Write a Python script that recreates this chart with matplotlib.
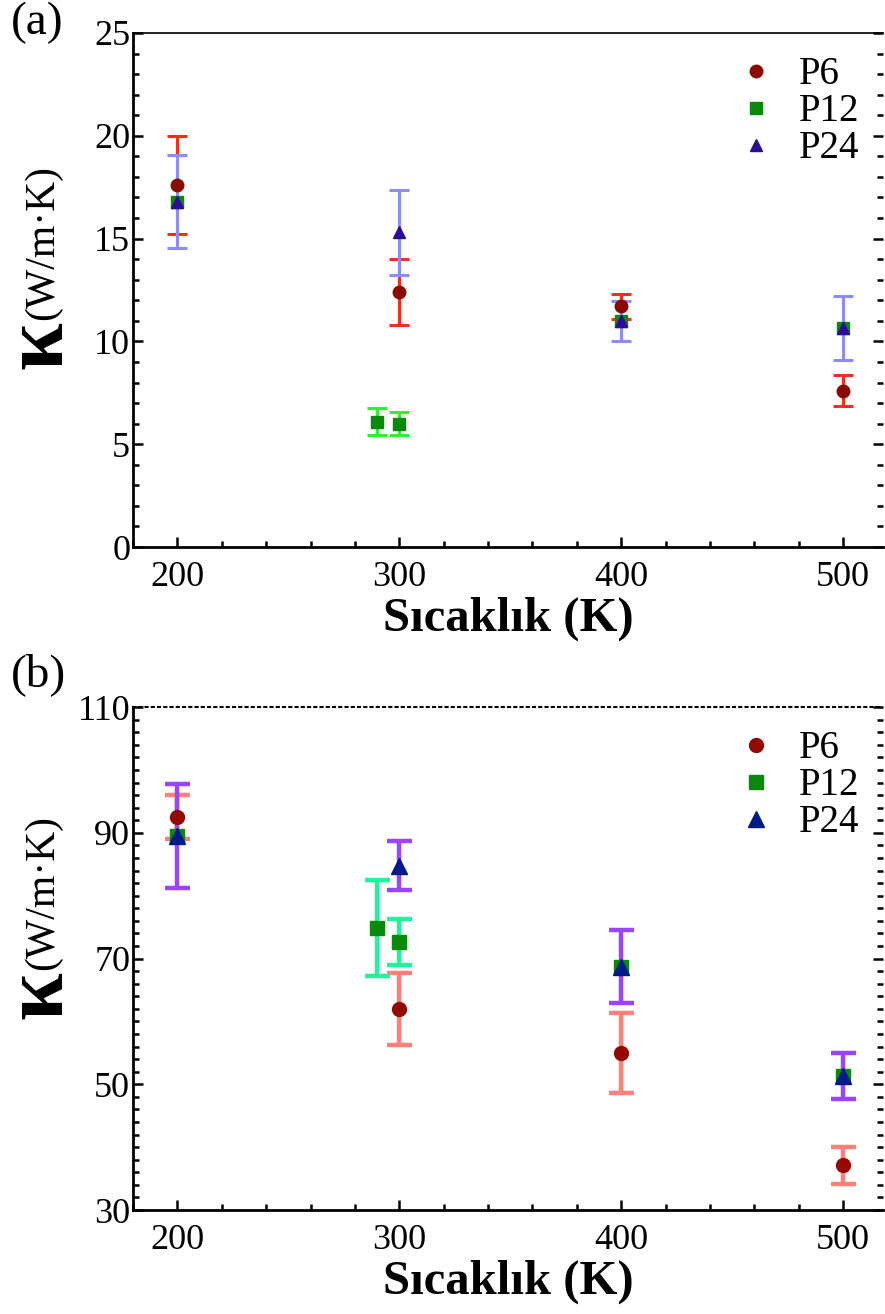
import numpy as np
import matplotlib
matplotlib.use("Agg")
import matplotlib.pyplot as plt
from matplotlib.ticker import MultipleLocator, FixedLocator

plt.rcParams['font.family'] = 'Liberation Serif'

# ---------------------------- data (a) ----------------------------
T_a = [200, 300, 400, 500]
p6_a = [17.6, 12.4, 11.7, 7.6]
p6_a_err = [2.4, 1.6, 0.62, 0.75]
T12_a = [200, 290, 300, 400, 500]
p12_a = [16.8, 6.1, 6.0, 11.0, 10.65]
p12_a_err = [np.nan, 0.64, 0.55, np.nan, np.nan]
p24_a = [16.8, 15.3, 11.0, 10.65]
p24_a_err = [2.25, 2.07, 0.97, 1.54]
yt_a = [0, 5, 10, 15, 20, 25]

# ---------------------------- data (b) ----------------------------
T_b = [200, 300, 400, 500]
p6_b = [92.5, 62.0, 55.0, 37.1]
p6_b_err = [3.5, 5.7, 6.4, 3.0]
T12_b = [200, 290, 300, 400, 500]
p12_b = [89.5, 74.9, 72.6, 68.7, 51.3]
p12_b_err = [np.nan, 7.6, 3.65, np.nan, np.nan]
p24_b = [89.5, 84.8, 68.7, 51.3]
p24_b_err = [8.3, 3.85, 5.8, 3.7]
yt_b = [30, 50, 70, 90, 110]

labels = ['P6', 'P12', 'P24']


def bars(ax, x, y, e, color, lw, cs):
    x, y, e = np.array(x), np.array(y), np.array(e)
    m = np.isfinite(e)
    ax.errorbar(x[m], y[m], yerr=e[m], fmt='none', ecolor=color,
                elinewidth=lw, capsize=cs, capthick=lw, zorder=2)


def style(ax, yt, ymin, top_dotted):
    ax.set_xlim(180, 518)
    ax.set_ylim(yt[0], yt[-1])
    ax.xaxis.set_major_locator(MultipleLocator(100))
    ax.xaxis.set_minor_locator(MultipleLocator(20))
    ax.yaxis.set_major_locator(FixedLocator(yt))
    ax.yaxis.set_minor_locator(FixedLocator(np.arange(yt[0], yt[-1], ymin)))
    for s in ['left', 'bottom']:
        ax.spines[s].set_linewidth(2.0)
    ax.spines['right'].set_visible(False)
    if top_dotted:
        ax.spines['top'].set_linestyle((0, (1, 2)))
        ax.spines['top'].set_linewidth(1.5)
    else:
        ax.spines['top'].set_linewidth(1.2)
    ax.tick_params(axis='both', which='both', direction='in', labelsize=26,
                   right=True, top=False, width=1.8)
    ax.tick_params(which='major', length=7)
    ax.tick_params(which='minor', length=4)
    ax.tick_params(axis='x', pad=10)
    ax.tick_params(axis='y', pad=2)
    ax.set_xlabel('Sıcaklık (K)', fontsize=35, fontweight='bold', labelpad=2)


fig = plt.figure(figsize=(8.85, 13.14), dpi=100)

# ------------------------------ (a) ------------------------------
ax1 = fig.add_axes([0.1503, 0.5837, 0.8475, 0.3912])
bars(ax1, T_a, p6_a, p6_a_err, '#ff2a1a', 2.2, 7)
bars(ax1, T12_a, p12_a, p12_a_err, '#33ee33', 2.2, 7)
bars(ax1, T_a, p24_a, p24_a_err, '#8c8cff', 2.2, 7)
ax1.plot(T_a, p6_a, 'o', color='#8b0a00', ms=9, ls='none', label=labels[0], zorder=3)
ax1.plot(T12_a, p12_a, 's', color='#0a8a0a', ms=9, ls='none', label=labels[1], zorder=3)
ax1.plot(T_a, p24_a, '^', color='#2e0a9a', ms=9, ls='none', label=labels[2], zorder=3)
style(ax1, yt_a, 1, False)
ax1.legend(loc='upper right', bbox_to_anchor=(1.0, 1.0), frameon=False,
           fontsize=28, handlelength=1.0, handletextpad=0.6, labelspacing=0.0,
           borderaxespad=0.2)

# ------------------------------ (b) ------------------------------
ax2 = fig.add_axes([0.1503, 0.0791, 0.8475, 0.3828])
bars(ax2, T_b, p6_b, p6_b_err, '#ff8078', 3.2, 9)
bars(ax2, T12_b, p12_b, p12_b_err, '#1ef59b', 3.2, 9)
bars(ax2, T_b, p24_b, p24_b_err, '#9a45ff', 3.2, 9)
ax2.plot(T_b, p6_b, 'o', color='#940a00', ms=10, ls='none', label=labels[0], zorder=3)
ax2.plot(T12_b, p12_b, 's', color='#0a8a0a', ms=10, ls='none', label=labels[1], zorder=3)
ax2.plot(T_b, p24_b, '^', color='#001a8c', ms=12, ls='none', label=labels[2], zorder=3)
style(ax2, yt_b, 2, True)
ax2.legend(loc='upper right', bbox_to_anchor=(1.0, 1.0), frameon=False,
           fontsize=28, handlelength=1.0, handletextpad=0.6, labelspacing=0.0,
           borderaxespad=0.2)

# y labels: big kappa + units
for yk, yu in [(0.7374, 0.7565), (0.243, 0.262)]:
    fig.text(0.046, yk, 'κ', rotation=90, fontsize=62, fontweight='bold',
             ha='center', va='center')
    fig.text(0.049, yu, '(W/m·K)', rotation=90, fontsize=30,
             ha='center', va='bottom')

fig.text(0.012, 0.999, '(a)', fontsize=34, ha='left', va='top')
fig.text(0.012, 0.503, '(b)', fontsize=34, ha='left', va='top')

fig.savefig('out.png', dpi=100)
